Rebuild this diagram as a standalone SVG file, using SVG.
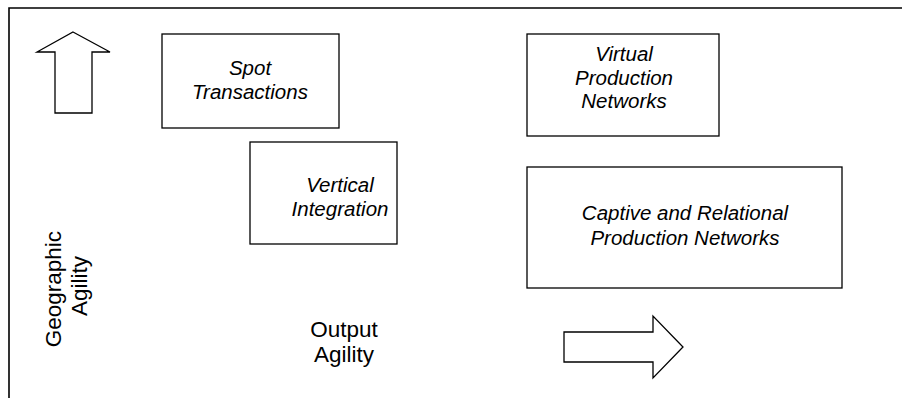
<svg xmlns="http://www.w3.org/2000/svg" width="902" height="398" viewBox="0 0 902 398">
  <style>
    .box { fill: #fff; stroke: #000; stroke-width: 1.3; }
    .arrow { fill: #fff; stroke: #000; stroke-width: 1.3; stroke-linejoin: miter; }
    .frame { fill: none; stroke: #000; stroke-width: 1.6; }
    .lbl { font-family: "Liberation Sans", Arial, sans-serif; font-size: 20.5px; font-style: italic; fill: #000; text-anchor: middle; }
    .axis { font-family: "Liberation Sans", Arial, sans-serif; font-size: 22.5px; fill: #000; text-anchor: middle; }
  </style>

  <!-- outer frame: top and left edges -->
  <path class="frame" d="M9,398 V8 H902"/>

  <!-- axis arrows -->
  <g id="connectors">
    <polygon id="arrow-up" class="arrow" points="73,32 110,52 92,52 92,113 55,113 55,52 37,52"/>
    <polygon id="arrow-right" class="arrow" points="564,332 653,332 653,316 683,347 653,378 653,362 564,362"/>
  </g>

  <g id="spot-transactions">
    <rect class="box" x="162" y="34" width="177" height="94"/>
    <text class="lbl" x="250" y="75">Spot</text>
    <text class="lbl" x="250" y="99">Transactions</text>
  </g>

  <g id="vertical-integration">
    <rect class="box" x="250" y="142" width="147" height="102"/>
    <text class="lbl" x="340" y="192">Vertical</text>
    <text class="lbl" x="340" y="216">Integration</text>
  </g>

  <g id="virtual-production-networks">
    <rect class="box" x="527" y="34" width="192" height="102"/>
    <text class="lbl" x="624" y="61">Virtual</text>
    <text class="lbl" x="624" y="85">Production</text>
    <text class="lbl" x="624" y="108">Networks</text>
  </g>

  <g id="captive-relational">
    <rect class="box" x="527" y="167" width="315" height="121"/>
    <text class="lbl" x="685" y="220">Captive and Relational</text>
    <text class="lbl" x="685" y="245">Production Networks</text>
  </g>

  <g id="geographic-agility">
    <text class="axis" transform="translate(61,286) rotate(-90)">
      <tspan x="0" y="0">Geographic</tspan>
      <tspan x="0" y="26">Agility</tspan>
    </text>
  </g>

  <g id="output-agility">
    <text class="axis" x="344" y="337">Output</text>
    <text class="axis" x="344" y="362">Agility</text>
  </g>
</svg>
